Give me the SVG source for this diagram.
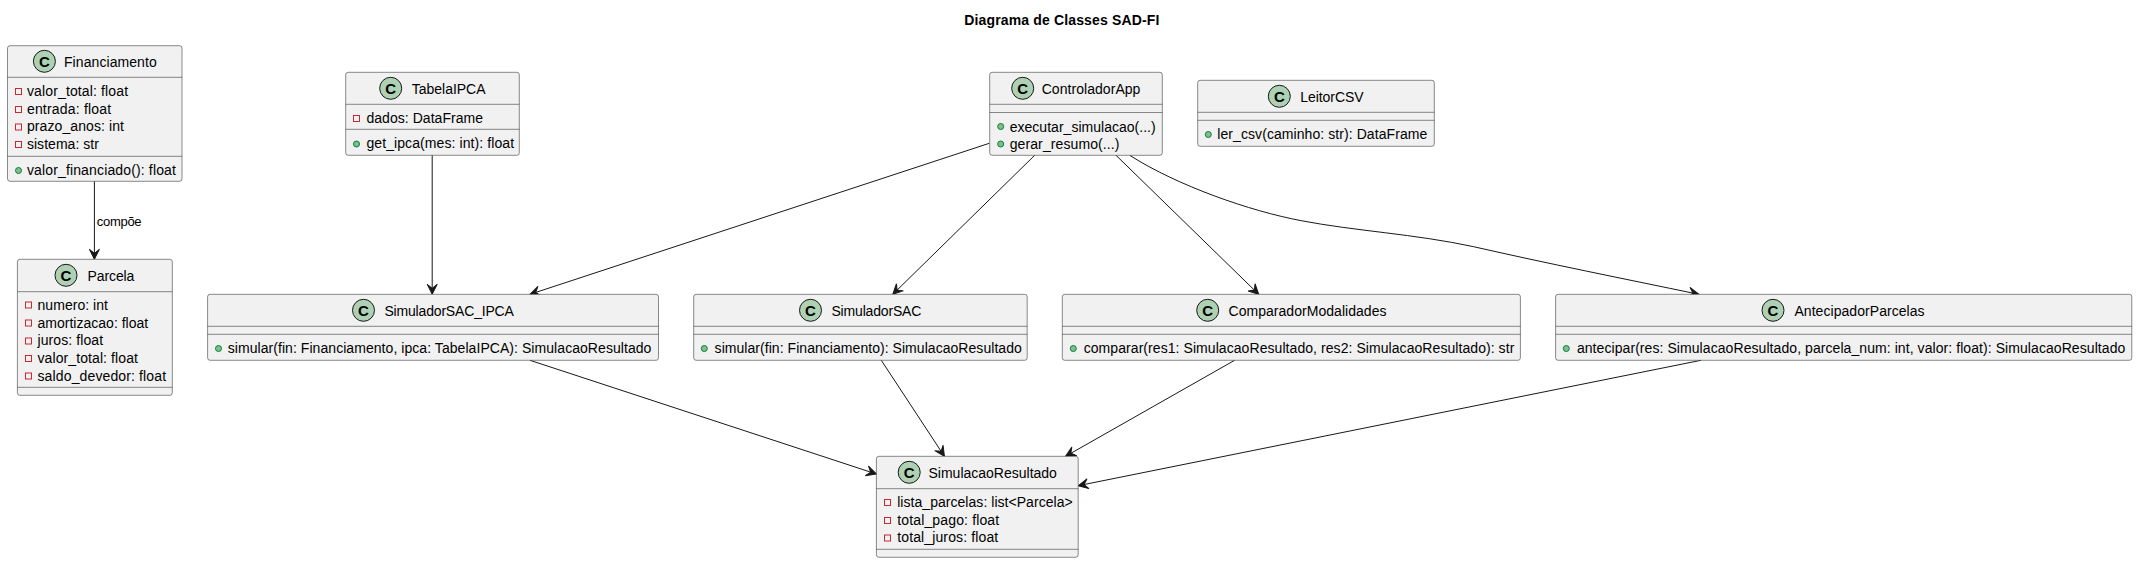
<svg xmlns="http://www.w3.org/2000/svg" width="2137" height="563" viewBox="0 0 2137 563">
<style>
text{font-family:"Liberation Sans",Arial,sans-serif;font-size:14px;fill:#000}
.t{font-weight:bold}
.l{font-size:13px}
.c{font-weight:bold;font-size:15px;text-anchor:middle}
.b{fill:#F1F1F1;stroke:#181818;stroke-width:.5}
.s{stroke:#181818;stroke-width:.5;fill:none}
.k{fill:#ADD1B2;stroke:#181818;stroke-width:1}
.p{fill:none;stroke:#C82930;stroke-width:1}
.u{fill:#84BE84;stroke:#038048;stroke-width:1}
.e{fill:none;stroke:#181818;stroke-width:1;marker-end:url(#a)}
</style>
<defs>
<marker id="a" markerUnits="userSpaceOnUse" markerWidth="14" markerHeight="14" refX="11" refY="7" orient="auto"><path d="M1,2 L11,7 L1,12 L5,7 Z" fill="#181818" stroke="#181818" stroke-width="1"/></marker>
</defs>
<text class="t" x="964.3" y="25" textLength="195">Diagrama de Classes SAD-FI</text>
<g id="connectors">
<path class="e" d="M94.4,181.3 L94.4,259.3"/>
<path class="e" d="M432.2,155.3 L432.2,294.3"/>
<path class="e" d="M989.3,143.3 L530,294.3"/>
<path class="e" d="M1034.7,155.3 L892.8,294.3"/>
<path class="e" d="M1116,155.3 L1258.7,294.3"/>
<path class="e" d="M1130,155.5 C1178,186 1250,211 1301.3,220.7 C1355,231 1415,234 1473.6,246.7 C1550,264 1620,278 1698.8,294.3"/>
<path class="e" d="M530,360.3 L876.4,474"/>
<path class="e" d="M881.3,360.3 L944.4,456.3"/>
<path class="e" d="M1234.6,360.3 L1065.6,456.3"/>
<path class="e" d="M1701,360.3 L1078.2,485.7"/>
<text class="l" x="96.8" y="226" textLength="44.8">compõe</text>
</g>
<g id="Financiamento">
<rect class="b" x="7.5" y="45.7" width="174.5" height="135.6" rx="2.5"/>
<path class="s" d="M7.5,77.3H182M7.5,156.3H182"/>
<circle class="k" cx="44.4" cy="61.3" r="11"/><text class="c" x="44.4" y="66.5">C</text>
<text x="64" y="67" textLength="92.7">Financiamento</text>
<rect class="p" x="15.5" y="88.5" width="6" height="6"/><text x="26.9" y="96" textLength="101.2">valor_total: float</text>
<rect class="p" x="15.5" y="106.5" width="6" height="6"/><text x="26.9" y="114" textLength="84.3">entrada: float</text>
<rect class="p" x="15.5" y="124" width="6" height="6"/><text x="26.9" y="131" textLength="97">prazo_anos: int</text>
<rect class="p" x="15.5" y="141.5" width="6" height="6"/><text x="26.9" y="149" textLength="72">sistema: str</text>
<circle class="u" cx="18.5" cy="170.5" r="3"/><text x="26.9" y="175" textLength="149">valor_financiado(): float</text>
</g>
<g id="TabelaIPCA">
<rect class="b" x="345.7" y="72.3" width="173.6" height="83" rx="2.5"/>
<path class="s" d="M345.7,104.3H519.3M345.7,129.3H519.3"/>
<circle class="k" cx="390.7" cy="88.3" r="11"/><text class="c" x="390.7" y="93.5">C</text>
<text x="411.8" y="94" textLength="73.7">TabelaIPCA</text>
<rect class="p" x="353.5" y="115.5" width="6" height="6"/><text x="366.4" y="123" textLength="116.7">dados: DataFrame</text>
<circle class="u" cx="356.5" cy="144" r="3"/><text x="366.4" y="148" textLength="147.7">get_ipca(mes: int): float</text>
</g>
<g id="ControladorApp">
<rect class="b" x="989.7" y="72.3" width="172.6" height="83" rx="2.5"/>
<path class="s" d="M989.7,104.3H1162.3M989.7,112.5H1162.3"/>
<circle class="k" cx="1022.7" cy="88.3" r="11"/><text class="c" x="1022.7" y="93.5">C</text>
<text x="1041.7" y="94" textLength="98.7">ControladorApp</text>
<circle class="u" cx="1000.7" cy="126.5" r="3"/><text x="1009.7" y="131.5" textLength="146">executar_simulacao(...)</text>
<circle class="u" cx="1000.7" cy="144" r="3"/><text x="1009.7" y="148.5" textLength="109.7">gerar_resumo(...)</text>
</g>
<g id="LeitorCSV">
<rect class="b" x="1197.7" y="80.3" width="236.6" height="66" rx="2.5"/>
<path class="s" d="M1197.7,112.3H1434.3M1197.7,120.3H1434.3"/>
<circle class="k" cx="1279.3" cy="96.3" r="11"/><text class="c" x="1279.3" y="101.5">C</text>
<text x="1300.3" y="102" textLength="63.3">LeitorCSV</text>
<circle class="u" cx="1208.3" cy="134.5" r="3"/><text x="1217.3" y="139" textLength="210">ler_csv(caminho: str): DataFrame</text>
</g>
<g id="Parcela">
<rect class="b" x="17.4" y="259.3" width="154.9" height="136" rx="2.5"/>
<path class="s" d="M17.4,291.7H172.3M17.4,387.3H172.3"/>
<circle class="k" cx="66" cy="275.3" r="11"/><text class="c" x="66" y="280.5">C</text>
<text x="87.5" y="281" textLength="46.9">Parcela</text>
<rect class="p" x="25.5" y="302" width="6" height="6"/><text x="37.5" y="310" textLength="70.5">numero: int</text>
<rect class="p" x="25.5" y="320" width="6" height="6"/><text x="37.5" y="328" textLength="110.7">amortizacao: float</text>
<rect class="p" x="25.5" y="338" width="6" height="6"/><text x="37.5" y="345" textLength="65.6">juros: float</text>
<rect class="p" x="25.5" y="355.5" width="6" height="6"/><text x="37.5" y="363" textLength="100.4">valor_total: float</text>
<rect class="p" x="25.5" y="373" width="6" height="6"/><text x="37.5" y="381" textLength="128.6">saldo_devedor: float</text>
</g>
<g id="SimuladorSAC_IPCA">
<rect class="b" x="207.6" y="294.3" width="450.9" height="66" rx="2.5"/>
<path class="s" d="M207.6,326.3H658.5M207.6,334.3H658.5"/>
<circle class="k" cx="363.5" cy="310.3" r="11"/><text class="c" x="363.5" y="315.5">C</text>
<text x="384.4" y="316" textLength="129.5">SimuladorSAC_IPCA</text>
<circle class="u" cx="218.5" cy="348.5" r="3"/><text x="227.7" y="353" textLength="423.7">simular(fin: Financiamento, ipca: TabelaIPCA): SimulacaoResultado</text>
</g>
<g id="SimuladorSAC">
<rect class="b" x="693.7" y="294.3" width="333.5" height="66" rx="2.5"/>
<path class="s" d="M693.7,326.3H1027.2M693.7,334.3H1027.2"/>
<circle class="k" cx="810.5" cy="310.3" r="11"/><text class="c" x="810.5" y="315.5">C</text>
<text x="831.4" y="316" textLength="90">SimuladorSAC</text>
<circle class="u" cx="704.3" cy="348.5" r="3"/><text x="714.6" y="353" textLength="307.2">simular(fin: Financiamento): SimulacaoResultado</text>
</g>
<g id="ComparadorModalidades">
<rect class="b" x="1062.3" y="294.3" width="458.1" height="66" rx="2.5"/>
<path class="s" d="M1062.3,326.3H1520.4M1062.3,334.3H1520.4"/>
<circle class="k" cx="1207.7" cy="310.3" r="11"/><text class="c" x="1207.7" y="315.5">C</text>
<text x="1228.5" y="316" textLength="158">ComparadorModalidades</text>
<circle class="u" cx="1073.3" cy="348.5" r="3"/><text x="1083.7" y="353" textLength="430.6">comparar(res1: SimulacaoResultado, res2: SimulacaoResultado): str</text>
</g>
<g id="AntecipadorParcelas">
<rect class="b" x="1555.6" y="294.3" width="576.2" height="66" rx="2.5"/>
<path class="s" d="M1555.6,326.3H2131.8M1555.6,334.3H2131.8"/>
<circle class="k" cx="1773" cy="310.3" r="11"/><text class="c" x="1773" y="315.5">C</text>
<text x="1794.4" y="316" textLength="130.2">AntecipadorParcelas</text>
<circle class="u" cx="1566.3" cy="348.5" r="3"/><text x="1576.9" y="353" textLength="548.4">antecipar(res: SimulacaoResultado, parcela_num: int, valor: float): SimulacaoResultado</text>
</g>
<g id="SimulacaoResultado">
<rect class="b" x="876.4" y="456.3" width="201.8" height="101" rx="2.5"/>
<path class="s" d="M876.4,488.7H1078.2M876.4,549.3H1078.2"/>
<circle class="k" cx="909.2" cy="472.3" r="11"/><text class="c" x="909.2" y="477.5">C</text>
<text x="928.5" y="478" textLength="128.4">SimulacaoResultado</text>
<rect class="p" x="884.5" y="499.5" width="6" height="6"/><text x="897.2" y="507" textLength="175.5">lista_parcelas: list&lt;Parcela&gt;</text>
<rect class="p" x="884.5" y="517.5" width="6" height="6"/><text x="897.2" y="525" textLength="102">total_pago: float</text>
<rect class="p" x="884.5" y="535" width="6" height="6"/><text x="897.2" y="542" textLength="101">total_juros: float</text>
</g>
</svg>
